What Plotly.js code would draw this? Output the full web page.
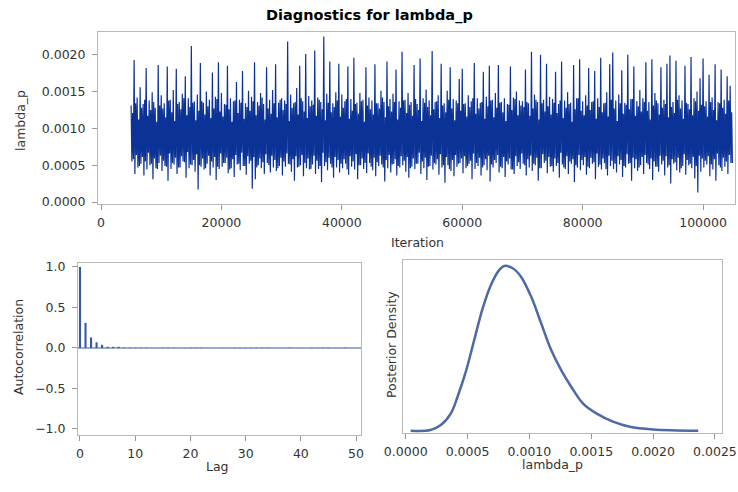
<!DOCTYPE html>
<html><head><meta charset="utf-8">
<script src="https://cdn.plot.ly/plotly-3.0.1.min.js"></script>
<style>html,body{margin:0;padding:0;background:#fff}#chart{width:738px;height:492px}</style>
</head><body><div id="chart"></div>
<script>
// ---- Trace plot data (MCMC draws of lambda_p) ----
// Draws are stored in four groups; in iteration order they go
// high, low, upper-core, lower-core, high, low, ...
const traceStart = 5000;      // first iteration kept
const traceStep = 125;        // iterations between plotted draws
const traceHighDraws = [
0.00131,0.00193,0.00142,0.00156,0.00133,0.00182,0.00138,0.00149,0.00128,0.00186,
0.00145,0.00134,0.00184,0.00139,0.00152,0.00181,0.00136,0.00147,0.00171,0.00141,
0.00212,0.00137,0.00146,0.00189,0.00135,0.00150,0.00139,0.00176,0.00143,0.00190,
0.00148,0.00133,0.00185,0.00141,0.00137,0.00163,0.00139,0.00178,0.00134,0.00151,
0.00143,0.00190,0.00136,0.00148,0.00133,0.00183,0.00139,0.00152,0.00187,0.00135,
0.00141,0.00138,0.00218,0.00146,0.00134,0.00155,0.00185,0.00137,0.00201,0.00144,
0.00138,0.00206,0.00142,0.00136,0.00225,0.00147,0.00191,0.00134,0.00149,0.00188,
0.00146,0.00137,0.00184,0.00140,0.00196,0.00135,0.00148,0.00139,0.00183,0.00142,
0.00138,0.00187,0.00134,0.00151,0.00136,0.00191,0.00140,0.00147,0.00180,0.00137,
0.00204,0.00139,0.00148,0.00136,0.00186,0.00133,0.00195,0.00141,0.00153,0.00138,
0.00205,0.00136,0.00145,0.00188,0.00134,0.00151,0.00183,0.00140,0.00138,0.00167,
0.00181,0.00134,0.00145,0.00137,0.00189,0.00141,0.00135,0.00177,0.00143,0.00185,
0.00139,0.00148,0.00186,0.00136,0.00141,0.00133,0.00184,0.00142,0.00150,0.00138,
0.00137,0.00180,0.00134,0.00204,0.00146,0.00136,0.00200,0.00139,0.00188,0.00143,
0.00140,0.00177,0.00133,0.00191,0.00138,0.00149,0.00135,0.00186,0.00141,0.00194,
0.00137,0.00145,0.00182,0.00136,0.00178,0.00141,0.00196,0.00134,0.00149,0.00187,
0.00203,0.00138,0.00146,0.00179,0.00135,0.00200,0.00140,0.00184,0.00137,0.00152,
0.00141,0.00190,0.00136,0.00194,0.00148,0.00134,0.00183,0.00139,0.00188,0.00199,
0.00136,0.00192,0.00145,0.00138,0.00185,0.00133,0.00197,0.00141,0.00150,0.00168,
0.00195,0.00137,0.00173,0.00142,0.00187,0.00136,0.00180,0.00139,0.00171,0.00158
];
const traceLowDraws = [
0.00055,0.00038,0.00047,0.00052,0.00036,0.00044,0.00050,0.00031,0.00046,0.00053,
0.00042,0.00049,0.00029,0.00045,0.00051,0.00038,0.00047,0.00055,0.00033,0.00046,
0.00050,0.00041,0.00017,0.00048,0.00044,0.00052,0.00036,0.00047,0.00030,0.00045,
0.00048,0.00053,0.00039,0.00046,0.00034,0.00051,0.00043,0.00049,0.00037,0.00052,
0.00018,0.00031,0.00050,0.00046,0.00038,0.00053,0.00040,0.00047,0.00042,0.00049,
0.00036,0.00048,0.00052,0.00041,0.00029,0.00047,0.00050,0.00035,0.00046,0.00044,
0.00051,0.00038,0.00045,0.00027,0.00049,0.00043,0.00052,0.00033,0.00047,0.00040,
0.00046,0.00052,0.00037,0.00048,0.00044,0.00031,0.00050,0.00045,0.00039,0.00053,
0.00043,0.00035,0.00049,0.00051,0.00028,0.00046,0.00040,0.00052,0.00036,0.00047,
0.00050,0.00041,0.00033,0.00048,0.00045,0.00052,0.00038,0.00046,0.00030,0.00049,
0.00044,0.00051,0.00037,0.00047,0.00026,0.00050,0.00042,0.00035,0.00048,0.00053,
0.00039,0.00046,0.00052,0.00031,0.00045,0.00049,0.00036,0.00050,0.00043,0.00028,
0.00047,0.00053,0.00040,0.00046,0.00034,0.00051,0.00044,0.00038,0.00049,0.00045,
0.00052,0.00036,0.00047,0.00042,0.00050,0.00029,0.00046,0.00053,0.00039,0.00048,
0.00041,0.00049,0.00033,0.00051,0.00045,0.00038,0.00052,0.00027,0.00047,0.00043,
0.00050,0.00037,0.00046,0.00052,0.00031,0.00048,0.00044,0.00053,0.00036,0.00049,
0.00045,0.00040,0.00051,0.00034,0.00047,0.00052,0.00029,0.00046,0.00042,0.00050,
0.00038,0.00053,0.00045,0.00030,0.00048,0.00041,0.00051,0.00036,0.00047,0.00025,
0.00052,0.00043,0.00040,0.00049,0.00037,0.00050,0.00046,0.00032,0.00013,0.00041,
0.00047,0.00051,0.00035,0.00044,0.00029,0.00050,0.00042,0.00048,0.00038,0.00053
];
const traceUpperCoreDraws = [
0.00121,0.00134,0.00112,0.00128,0.00139,0.00117,0.00125,0.00136,0.00109,0.00131,
0.00127,0.00115,0.00138,0.00122,0.00110,0.00133,0.00126,0.00141,0.00118,0.00129,
0.00135,0.00111,0.00124,0.00137,0.00119,0.00130,0.00114,0.00127,0.00140,0.00123,
0.00116,0.00132,0.00126,0.00109,0.00138,0.00121,0.00135,0.00113,0.00129,0.00124,
0.00137,0.00118,0.00131,0.00142,0.00112,0.00127,0.00120,0.00134,0.00115,0.00139,
0.00125,0.00133,0.00110,0.00128,0.00136,0.00119,0.00141,0.00123,0.00114,0.00130,
0.00132,0.00117,0.00139,0.00126,0.00111,0.00135,0.00122,0.00129,0.00138,0.00116,
0.00128,0.00140,0.00113,0.00124,0.00133,0.00120,0.00137,0.00109,0.00131,0.00126,
0.00119,0.00134,0.00127,0.00142,0.00115,0.00130,0.00123,0.00136,0.00112,0.00128,
0.00138,0.00121,0.00132,0.00117,0.00140,0.00125,0.00110,0.00135,0.00129,0.00118,
0.00126,0.00137,0.00114,0.00131,0.00122,0.00139,0.00127,0.00111,0.00134,0.00124,
0.00133,0.00116,0.00129,0.00141,0.00120,0.00127,0.00136,0.00113,0.00130,0.00138,
0.00115,0.00128,0.00135,0.00122,0.00110,0.00132,0.00125,0.00140,0.00118,0.00131,
0.00129,0.00136,0.00117,0.00127,0.00139,0.00112,0.00134,0.00123,0.00130,0.00119,
0.00135,0.00121,0.00138,0.00114,0.00128,0.00133,0.00109,0.00126,0.00141,0.00124,
0.00118,0.00131,0.00125,0.00137,0.00113,0.00129,0.00122,0.00135,0.00116,0.00139,
0.00127,0.00110,0.00134,0.00120,0.00132,0.00126,0.00140,0.00117,0.00130,0.00123,
0.00136,0.00124,0.00112,0.00131,0.00138,0.00119,0.00128,0.00133,0.00115,0.00129,
0.00121,0.00139,0.00127,0.00113,0.00135,0.00126,0.00118,0.00137,0.00124,0.00132,
0.00130,0.00116,0.00136,0.00125,0.00111,0.00134,0.00128,0.00120,0.00138,0.00122
];
const traceLowerCoreDraws = [
0.00058,0.00064,0.00049,0.00061,0.00055,0.00067,0.00052,0.00059,0.00045,0.00063,
0.00056,0.00048,0.00066,0.00053,0.00060,0.00047,0.00062,0.00054,0.00068,0.00051,
0.00057,0.00065,0.00050,0.00059,0.00046,0.00063,0.00055,0.00061,0.00048,0.00066,
0.00053,0.00060,0.00044,0.00058,0.00064,0.00052,0.00067,0.00049,0.00062,0.00056,
0.00061,0.00047,0.00059,0.00054,0.00065,0.00050,0.00063,0.00057,0.00046,0.00060,
0.00055,0.00066,0.00051,0.00058,0.00062,0.00048,0.00064,0.00053,0.00059,0.00045,
0.00063,0.00056,0.00049,0.00067,0.00054,0.00060,0.00047,0.00061,0.00057,0.00052,
0.00058,0.00044,0.00062,0.00055,0.00065,0.00050,0.00059,0.00053,0.00066,0.00048,
0.00060,0.00054,0.00063,0.00047,0.00057,0.00064,0.00051,0.00058,0.00049,0.00062,
0.00056,0.00061,0.00046,0.00059,0.00052,0.00067,0.00055,0.00060,0.00048,0.00063,
0.00053,0.00058,0.00065,0.00050,0.00061,0.00045,0.00057,0.00064,0.00052,0.00059,
0.00062,0.00049,0.00056,0.00066,0.00053,0.00060,0.00047,0.00058,0.00063,0.00051,
0.00057,0.00064,0.00048,0.00061,0.00055,0.00059,0.00044,0.00062,0.00054,0.00066,
0.00050,0.00058,0.00063,0.00052,0.00060,0.00046,0.00065,0.00056,0.00061,0.00049,
0.00059,0.00053,0.00067,0.00047,0.00062,0.00055,0.00058,0.00050,0.00064,0.00057,
0.00061,0.00048,0.00060,0.00054,0.00066,0.00051,0.00059,0.00045,0.00063,0.00056,
0.00052,0.00062,0.00057,0.00049,0.00065,0.00053,0.00060,0.00058,0.00047,0.00061,
0.00064,0.00051,0.00059,0.00055,0.00048,0.00063,0.00056,0.00062,0.00050,0.00058,
0.00054,0.00060,0.00046,0.00065,0.00057,0.00052,0.00061,0.00049,0.00063,0.00059,
0.00056,0.00062,0.00051,0.00058,0.00066,0.00047,0.00060,0.00055,0.00064,0.00053
];

// ---- Autocorrelation data ----
const acfLags = [0,1,2,3,4,5,6,7,8,9,10,11,12,13,14,15,16,17,18,19,20,21,22,23,24,25,
  26,27,28,29,30,31,32,33,34,35,36,37,38,39,40,41,42,43,44,45,46,47,48,49,50];
const acfValues = [1.0,0.31,0.13,0.07,0.04,0.015,0.015,0.015,0.006,0.005,0.003,0.004,0.004,
  0.001,0.0,0.004,0.004,0.003,0.0,-0.001,0.004,0.004,0.003,0.001,-0.001,0.0,-0.002,0.001,
  -0.002,-0.004,-0.004,-0.003,0.004,0.004,0.004,0.0,-0.001,0.001,0.004,0.0,-0.001,0.0,
  -0.004,0.001,0.004,0.004,0.0,-0.001,0.004,0.0,0.0];

// ---- Posterior density data ----
const densityX = [0.00004,0.00020,0.000284,0.000365,0.000419,0.000486,0.000554,0.000622,
  0.000689,0.000757,0.000797,0.000865,0.000932,0.001014,0.001095,0.001176,0.001257,
  0.001338,0.001432,0.001541,0.001676,0.001811,0.002,0.002365];
const densityY = [0,0.004,0.034,0.105,0.206,0.358,0.551,0.743,0.885,0.976,1.0,0.986,0.935,
  0.814,0.652,0.490,0.368,0.267,0.166,0.105,0.055,0.024,0.008,0];

// ---- Text ----
const chartTitle = 'Diagnostics for lambda_p';
const paramName = 'lambda_p';

// put the draw groups back into iteration order
const traceY = [];
for (let i = 0; i < traceHighDraws.length; i++) {
  traceY.push(traceHighDraws[i], traceLowDraws[i], traceUpperCoreDraws[i], traceLowerCoreDraws[i]);
}
const traceX = traceY.map((_, i) => traceStart + i * traceStep);

const FONT = 'DejaVu Sans';
const TICKFONT = {family: FONT, size: 12.5, color: '#333'};
const LINEC = '#b8b8b8';

function axisBase(extra) {
  return Object.assign({
    showline: true, linecolor: LINEC, linewidth: 1, mirror: true,
    ticks: 'outside', ticklen: 5, tickcolor: '#999', tickwidth: 1,
    showgrid: false, zeroline: false, tickfont: TICKFONT, fixedrange: true
  }, extra);
}

const data = [
  {type: 'scatter', mode: 'lines', x: traceX, y: traceY, xaxis: 'x', yaxis: 'y',
   line: {color: '#0b3296', width: 1.2, simplify: false}, hoverinfo: 'skip'},
  {type: 'bar', x: acfLags, y: acfValues, xaxis: 'x2', yaxis: 'y2', width: 0.38,
   marker: {color: '#3558a8', line: {width: 0}}, hoverinfo: 'skip'},
  {type: 'scatter', mode: 'lines', x: densityX, y: densityY, xaxis: 'x3', yaxis: 'y3',
   line: {color: '#4d6aa6', width: 2.5, shape: 'spline', smoothing: 1}, hoverinfo: 'skip'}
];

const layout = {
  width: 738, height: 492,
  margin: {l: 0, r: 0, t: 0, b: 0},
  paper_bgcolor: '#fff', plot_bgcolor: '#fff',
  showlegend: false,
  font: {family: FONT, color: '#333'},
  xaxis: axisBase({domain: [0.1328, 0.9959], range: [-500, 105300], anchor: 'y',
    tick0: 0, dtick: 20000, tickformat: 'd', ticklabelstandoff: 2}),
  yaxis: axisBase({domain: [0.5854, 0.935], range: [-0.000027, 0.00231], anchor: 'x',
    tick0: 0, dtick: 0.0005, tickformat: '.4f', ticklabelstandoff: 4}),
  xaxis2: axisBase({domain: [0.1057, 0.4892], range: [-0.36, 50.9], anchor: 'y2',
    tick0: 0, dtick: 10, ticklabelstandoff: 2}),
  yaxis2: axisBase({domain: [0.1159, 0.4654], range: [-1.074, 1.049], anchor: 'x2',
    tick0: 0, dtick: 0.5, tickformat: '.1f', ticklabelstandoff: 4}),
  xaxis3: axisBase({domain: [0.5461, 0.9783], range: [-0.0000218, 0.002557], anchor: 'y3',
    tick0: 0, dtick: 0.0005, tickformat: '.4f', ticklabelstandoff: 2}),
  yaxis3: axisBase({domain: [0.1199, 0.4715], range: [-0.014, 1.036], anchor: 'x3',
    ticks: '', showticklabels: false}),
  shapes: [
    {type: 'line', xref: 'x2 domain', yref: 'y2', x0: 0, x1: 1, y0: 0, y1: 0,
     line: {color: '#3558a8', width: 1.2}}
  ],
  annotations: [
    {text: '<b>' + chartTitle + '</b>', xref: 'paper', yref: 'paper', x: 0.5, y: 1 - 15/492,
     xanchor: 'center', yanchor: 'middle', showarrow: false,
     font: {family: FONT, size: 14.5, color: '#000'}},
    {text: 'Iteration', xref: 'paper', yref: 'paper', x: 417/738, y: 1 - 242/492,
     xanchor: 'center', yanchor: 'middle', showarrow: false, font: {family: FONT, size: 12.5, color: '#333'}},
    {text: paramName, xref: 'paper', yref: 'paper', x: 20/738, y: 1 - 121/492, textangle: -90,
     xanchor: 'center', yanchor: 'middle', showarrow: false, font: {family: FONT, size: 12.5, color: '#333'}},
    {text: 'Autocorrelation', xref: 'paper', yref: 'paper', x: 18/738, y: 1 - 347/492, textangle: -90,
     xanchor: 'center', yanchor: 'middle', showarrow: false, font: {family: FONT, size: 12.5, color: '#333'}},
    {text: 'Lag', xref: 'paper', yref: 'paper', x: 217/738, y: 1 - 466/492,
     xanchor: 'center', yanchor: 'middle', showarrow: false, font: {family: FONT, size: 12.5, color: '#333'}},
    {text: 'Posterior Density', xref: 'paper', yref: 'paper', x: 391/738, y: 1 - 345/492, textangle: -90,
     xanchor: 'center', yanchor: 'middle', showarrow: false, font: {family: FONT, size: 12.5, color: '#333'}},
    {text: paramName, xref: 'paper', yref: 'paper', x: 552/738, y: 1 - 464/492,
     xanchor: 'center', yanchor: 'middle', showarrow: false, font: {family: FONT, size: 12.5, color: '#333'}}
  ]
};

Plotly.newPlot('chart', data, layout, {staticPlot: true, displayModeBar: false});
</script>
</body></html>
